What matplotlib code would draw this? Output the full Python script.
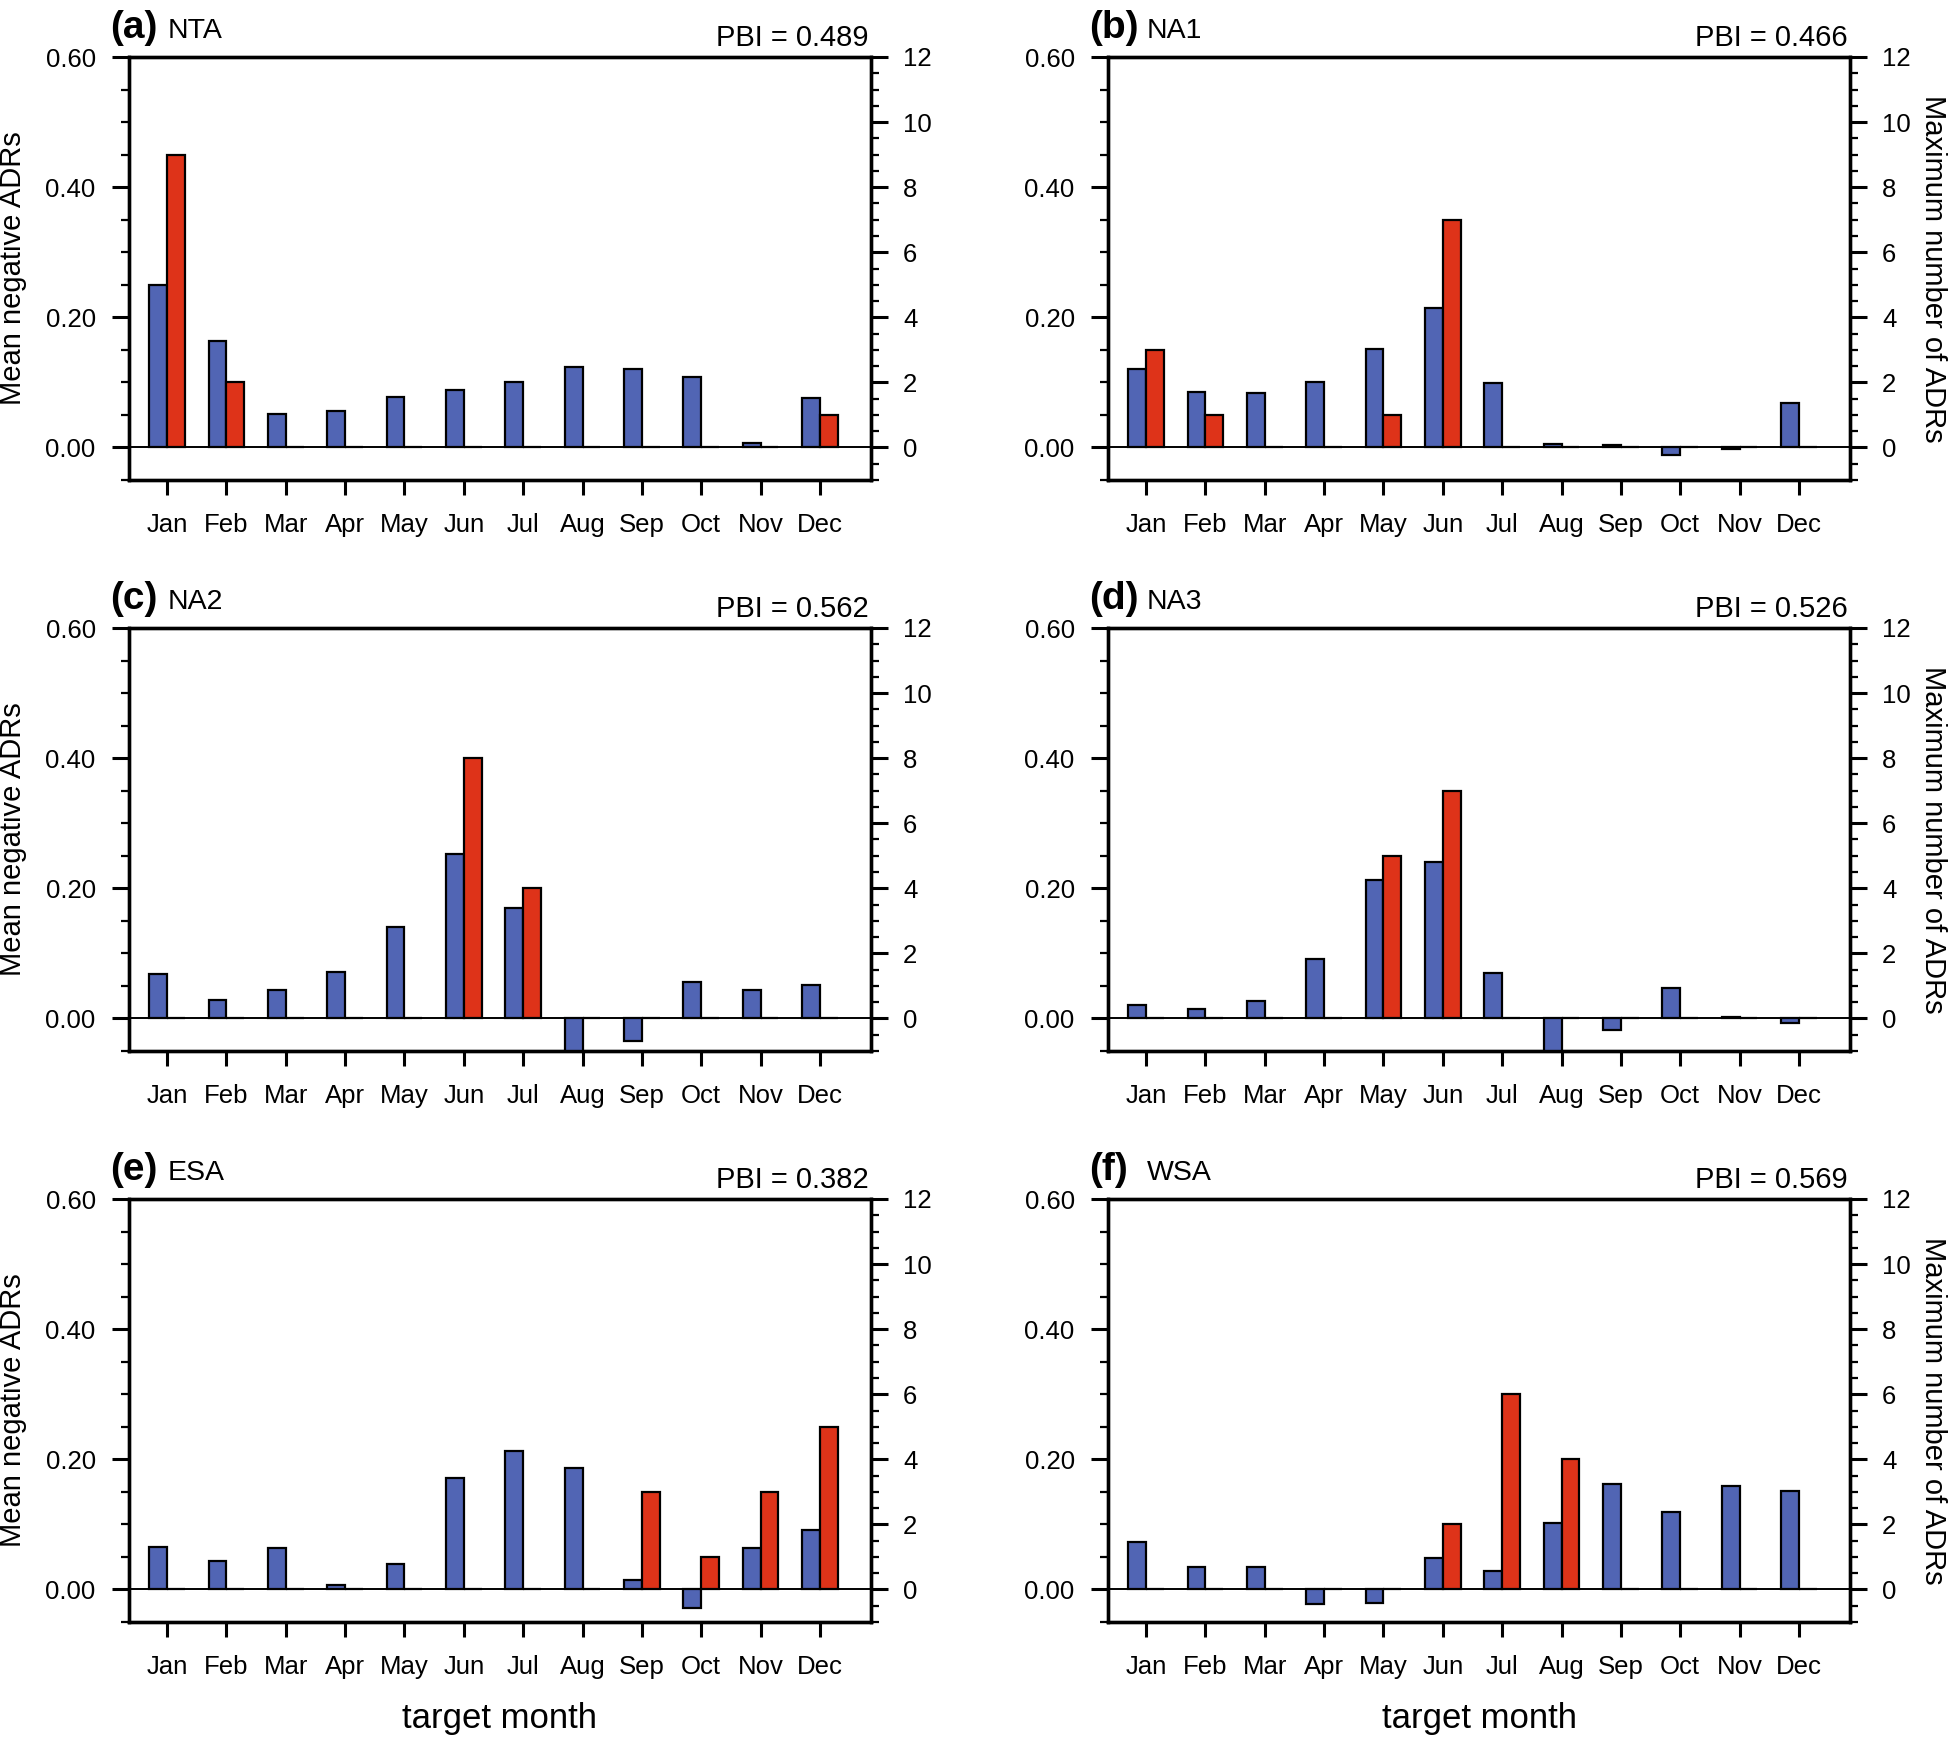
import matplotlib
matplotlib.use('Agg')
import matplotlib.pyplot as plt
import numpy as np
from matplotlib.ticker import MultipleLocator

plt.rcParams['font.family'] = ['Liberation Sans', 'DejaVu Sans']

# ---------------- data ----------------
months = ['Jan', 'Feb', 'Mar', 'Apr', 'May', 'Jun',
          'Jul', 'Aug', 'Sep', 'Oct', 'Nov', 'Dec']
panel_tags = ['(a)', '(b)', '(c)', '(d)', '(e)', '(f)']
regions = ['NTA', 'NA1', 'NA2', 'NA3', 'ESA', 'WSA']
pbi_values = ['0.489', '0.466', '0.562', '0.526', '0.382', '0.569']

# mean negative ADRs (left axis, blue bars)
mean_nta = [0.249, 0.163, 0.052, 0.056, 0.078, 0.088, 0.100, 0.123, 0.120, 0.109, 0.007, 0.076]
mean_na1 = [0.121, 0.085, 0.083, 0.100, 0.151, 0.215, 0.099, 0.005, 0.004, -0.012, -0.002, 0.068]
mean_na2 = [0.068, 0.028, 0.043, 0.072, 0.140, 0.252, 0.169, -0.060, -0.034, 0.056, 0.043, 0.052]
mean_na3 = [0.021, 0.015, 0.027, 0.091, 0.213, 0.241, 0.070, -0.060, -0.017, 0.047, 0.002, -0.007]
mean_esa = [0.066, 0.044, 0.064, 0.007, 0.039, 0.171, 0.213, 0.187, 0.014, -0.029, 0.064, 0.091]
mean_wsa = [0.073, 0.034, 0.034, -0.023, -0.021, 0.049, 0.029, 0.102, 0.162, 0.119, 0.159, 0.152]

# maximum number of ADRs (right axis, red bars)
max_nta = [9, 2, 0, 0, 0, 0, 0, 0, 0, 0, 0, 1]
max_na1 = [3, 1, 0, 0, 1, 7, 0, 0, 0, 0, 0, 0]
max_na2 = [0, 0, 0, 0, 0, 8, 4, 0, 0, 0, 0, 0]
max_na3 = [0, 0, 0, 0, 5, 7, 0, 0, 0, 0, 0, 0]
max_esa = [0, 0, 0, 0, 0, 0, 0, 0, 3, 1, 3, 5]
max_wsa = [0, 0, 0, 0, 0, 2, 6, 4, 0, 0, 0, 0]

left_ticks = [0.0, 0.2, 0.4, 0.6]
left_ticklabels = ['0.00', '0.20', '0.40', '0.60']
right_ticks = [0, 2, 4, 6, 8, 10, 12]
right_ticklabels = ['0', '2', '4', '6', '8', '10', '12']

mean_all = [mean_nta, mean_na1, mean_na2, mean_na3, mean_esa, mean_wsa]
max_all = [max_nta, max_na1, max_na2, max_na3, max_esa, max_wsa]

# ---------------- layout ----------------
W, H = 1948, 1737
fig = plt.figure(figsize=(W / 100, H / 100), dpi=100)

col_left = [129, 1108]
ax_w = 742
row_top = [57, 628, 1199]
ax_h = 423

BLUE = '#5165B4'
RED = '#DE3319'
bw = 0.3
x = np.arange(1, 13)


def fx(px):
    return px / W


def fy(py):
    return 1 - py / H


for i in range(6):
    r, c = divmod(i, 2)
    L = col_left[c]
    T = row_top[r]
    ax = fig.add_axes([fx(L), fy(T + ax_h), ax_w / W, ax_h / H])
    ax2 = ax.twinx()

    ax.bar(x - bw / 2, mean_all[i], width=bw, color=BLUE, edgecolor='black',
           linewidth=1.6, zorder=3)
    ax2.bar(x + bw / 2, max_all[i], width=bw, color=RED, edgecolor='black',
            linewidth=1.6, zorder=3)
    ax2.axhline(0, color='black', lw=1.4, zorder=6)

    ax.set_xlim(0.36, 12.86)
    ax.set_ylim(-0.05, 0.6)
    ax2.set_ylim(-1, 12)

    ax.set_xticks(x)
    ax.set_xticklabels(months)
    ax.set_yticks(left_ticks)
    ax.set_yticklabels(left_ticklabels)
    ax.yaxis.set_minor_locator(MultipleLocator(0.05))
    ax2.set_yticks(right_ticks)
    ax2.set_yticklabels(right_ticklabels)
    ax2.yaxis.set_minor_locator(MultipleLocator(0.5))

    ax.tick_params(axis='y', which='major', direction='out', length=12, width=2.2,
                   labelsize=18.5, pad=12)
    ax.tick_params(axis='y', which='minor', direction='out', length=6, width=1.6)
    ax.tick_params(axis='x', which='major', direction='out', length=11, width=2.2,
                   labelsize=18.5, pad=13, top=False)
    ax.tick_params(axis='x', which='minor', bottom=False, top=False)
    ax2.tick_params(axis='y', which='major', direction='out', length=12, width=2.2,
                    labelsize=18.5, pad=11)
    ax2.tick_params(axis='y', which='minor', direction='out', length=6, width=1.6)

    for a in (ax, ax2):
        for s in a.spines.values():
            s.set_linewidth(2.4)

    # titles
    fig.text(fx(L - 19), fy(T - 19), panel_tags[i], fontsize=28, fontweight='bold',
             ha='left', va='baseline')
    fig.text(fx(L + 39), fy(T - 19), regions[i], fontsize=20.5,
             ha='left', va='baseline')
    fig.text(fx(L + ax_w - 2), fy(T - 11), 'PBI = ' + pbi_values[i], fontsize=21,
             ha='right', va='baseline')

    if c == 0:
        fig.text(fx(13), fy(T + ax_h / 2), 'Mean negative ADRs', fontsize=21,
                 rotation=90, ha='center', va='center')
    else:
        fig.text(fx(1933), fy(T + ax_h / 2), 'Maximum number of ADRs', fontsize=21,
                 rotation=270, ha='center', va='center')
    if r == 2:
        fig.text(fx(L + ax_w / 2), fy(1728), 'target month', fontsize=25,
                 ha='center', va='baseline')

fig.savefig('out.png', dpi=100)
